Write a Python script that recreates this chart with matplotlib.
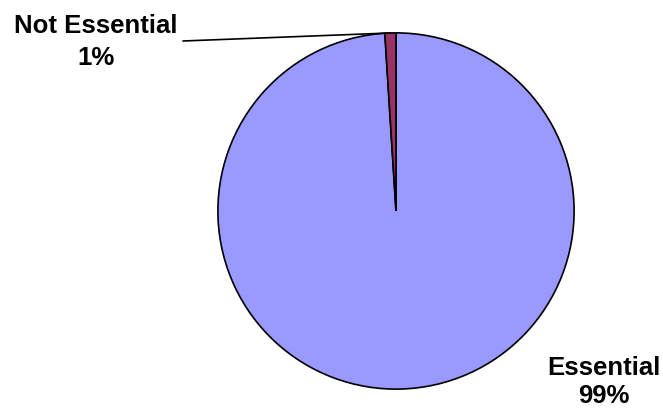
import numpy as np
import matplotlib
matplotlib.use("Agg")
import matplotlib.pyplot as plt

plt.rcParams['font.family'] = ['Liberation Sans', 'DejaVu Sans']

# data
labels = ["Essential", "Not Essential"]
values = [99, 1]
colors = ["#9999FF", "#993366"]

W, H = 663, 414
fig = plt.figure(figsize=(W / 100, H / 100), dpi=100)

# pie centre and radius in pixels
cx, cy, r = 396, 212, 179
ax = fig.add_axes([(cx - r) / W, 1 - (cy + r) / H, 2 * r / W, 2 * r / H])

wedges, _ = ax.pie(values, colors=colors, startangle=90, counterclock=False,
                   wedgeprops=dict(edgecolor="black", linewidth=1.2),
                   radius=1.0)
ax.set_xlim(-1.005, 1.005)
ax.set_ylim(-1.005, 1.005)
ax.set_aspect("auto")
ax.axis("off")

total = float(sum(values))
pct = ["{:.0f}%".format(100 * v / total) for v in values]

# leader line to the small slice
w = wedges[1]
ang = np.deg2rad(w.theta2 - 1.8)
ax.annotate("", xy=(np.cos(ang), np.sin(ang)), xycoords="data",
            xytext=(183 / W, 1 - 42 / H), textcoords="figure fraction",
            arrowprops=dict(arrowstyle="-", color="black", lw=1.2,
                            shrinkA=0, shrinkB=0))

fs = 18.5
fig.text(96 / W, 1 - 42 / H, labels[1] + "\n" + pct[1], ha="center", va="center",
         fontsize=fs, fontweight="bold", linespacing=1.4)
fig.text(604 / W, 1 - 382 / H, labels[0] + "\n" + pct[0], ha="center", va="center",
         fontsize=fs, fontweight="bold", linespacing=1.25)

fig.savefig("out.png", dpi=100, facecolor="white")
